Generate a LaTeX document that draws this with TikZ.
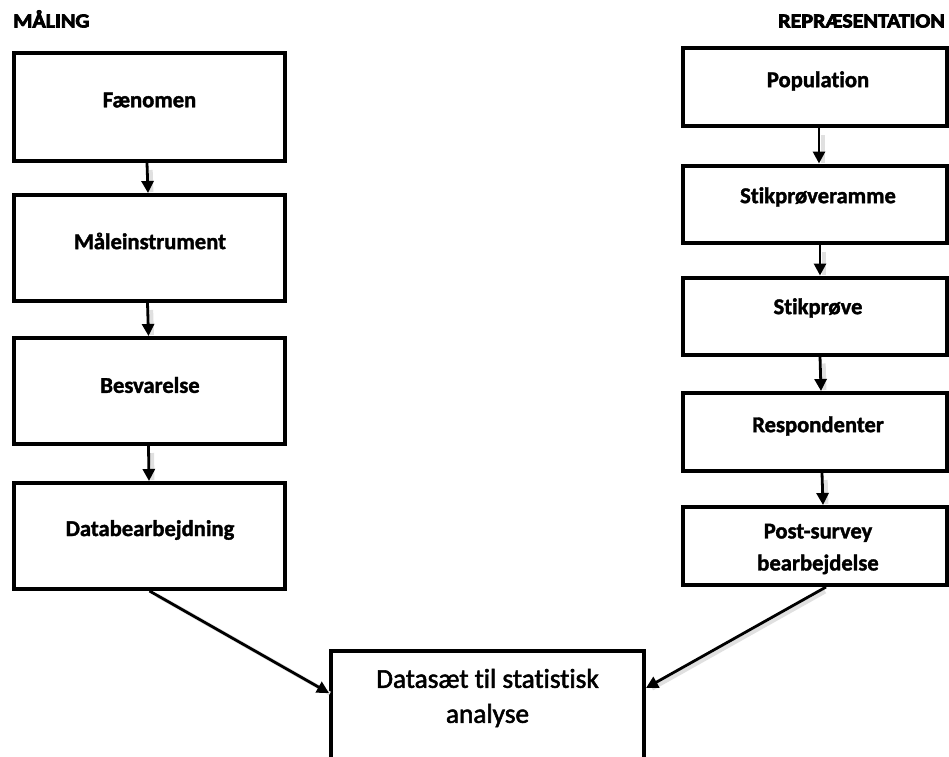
\documentclass[tikz,border=0pt]{standalone}
\usepackage{fontspec}
\setmainfont{Carlito}[Ligatures=NoCommon]
\newfontfamily\lblfont{Carlito Bold}[Ligatures=NoCommon, FakeBold=1.6]
\newfontfamily\headfont{Carlito Bold}[Ligatures=NoCommon, FakeBold=3.5]
\newfontfamily\bigfont{Carlito}[Ligatures=NoCommon, FakeBold=2]
\usetikzlibrary{arrows.meta}
\newcommand\myarrow[4]{%
  \draw[shadowline] ([#1,xshift=3.5pt,yshift=-2pt]#2) -- ([#3,xshift=3.5pt,yshift=-2pt]#4);
  \draw[arr] ([#1]#2) -- ([#3]#4);}
\begin{document}
\begin{tikzpicture}[x=1pt,y=-1pt,
  box/.style={draw, line width=4pt, inner sep=0pt},
  lbl/.style={font=\lblfont\fontsize{22.6}{32}\selectfont, align=center, inner sep=0pt},
  big/.style={font=\bigfont\fontsize{27.3}{35}\selectfont, align=center, inner sep=0pt},
  head/.style={font=\headfont\fontsize{20}{22}\selectfont, inner sep=0pt},
  arr/.style={line width=2.8pt, -{Triangle[length=12pt,width=12pt]}},
  shadowline/.style={line width=4pt, draw=black!12, shorten >=3pt, shorten <=5pt}
]
\useasboundingbox (0,0) rectangle (949,756);
\fill[white] (0,0) rectangle (949,756);

% headings
\node[head, anchor=base west] (hl) at (13,27.5) {\scalebox{1.1}[1]{MÅLING}};
\node[head, anchor=base east] (hr) at (945,27.5) {\scalebox{1.1}[1]{REPRÆSENTATION}};

% left column
\node[box, minimum width=271pt, minimum height=108pt] (L1) at (149.5,107) {};
\node[box, minimum width=271pt, minimum height=106pt] (L2) at (149.5,248) {};
\node[box, minimum width=271pt, minimum height=106pt] (L3) at (149.5,391) {};
\node[box, minimum width=271pt, minimum height=106pt] (L4) at (149.5,536) {};
\node[lbl] (tL1) at (149.5,100) {Fænomen};
\node[lbl] (tL2) at (150,241) {Måleinstrument};
\node[lbl] (tL3) at (150,385) {Besvarelse};
\node[lbl] (tL4) at (150,530) {Databearbejdning};

% right column
\node[box, minimum width=264pt, minimum height=78pt] (R1) at (815,87) {};
\node[box, minimum width=264pt, minimum height=77pt] (R2) at (815,204) {};
\node[box, minimum width=264pt, minimum height=77pt] (R3) at (815,316) {};
\node[box, minimum width=264pt, minimum height=78pt] (R4) at (815,432) {};
\node[box, minimum width=264pt, minimum height=78pt] (R5) at (815,546) {};
\node[lbl] (tR1) at (818,81) {Population};
\node[lbl] (tR2) at (818,197) {Stikprøveramme};
\node[lbl] (tR3) at (818,308) {Stikprøve};
\node[lbl] (tR4) at (818,426) {Respondenter};
\node[lbl] (tR5) at (818,549) {Post-survey\\bearbejdelse};

% bottom box
\node[box, minimum width=313pt, minimum height=111pt] (B) at (487.5,706.5) {};
\node[big] (tB) at (487.5,698) {Datasæt til statistisk\\analyse};

% connectors
\myarrow{xshift=-2.5pt}{L1.south}{xshift=-1.5pt}{L2.north}
\myarrow{xshift=-2pt}{L2.south}{xshift=-1pt}{L3.north}
\myarrow{xshift=-1pt}{L3.south}{xshift=-0.5pt}{L4.north}
\myarrow{xshift=4pt}{R1.south}{xshift=4pt}{R2.north}
\myarrow{xshift=5pt}{R2.south}{xshift=5pt}{R3.north}
\myarrow{xshift=5pt}{R3.south}{xshift=6pt}{R4.north}
\myarrow{xshift=7pt}{R4.south}{xshift=8pt}{R5.north}
\myarrow{xshift=0pt}{L4.south}{yshift=13.5pt}{B.west}
\myarrow{xshift=11pt}{R5.south}{yshift=18.5pt}{B.east}
\end{tikzpicture}
\end{document}
